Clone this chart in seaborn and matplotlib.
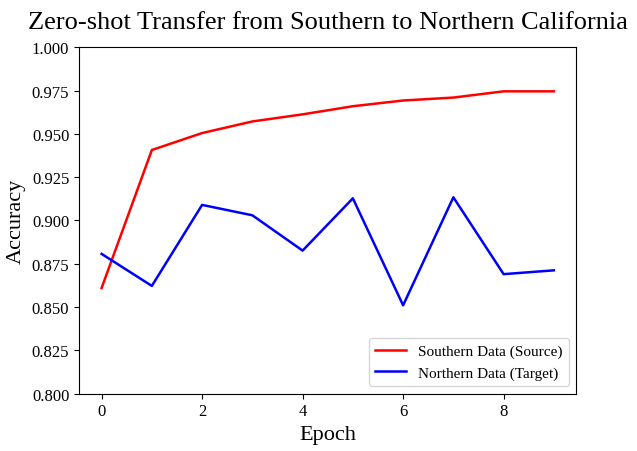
import matplotlib
matplotlib.use("Agg")
import matplotlib.pyplot as plt
import seaborn as sns
import pandas as pd

epochs = [0, 1, 2, 3, 4, 5, 6, 7, 8, 9]
southern = [0.861, 0.9407, 0.9505, 0.9572, 0.9613, 0.9660, 0.9693, 0.9710, 0.9746, 0.9746]
northern = [0.8807, 0.8622, 0.9090, 0.9030, 0.8826, 0.9128, 0.8510, 0.9134, 0.8690, 0.8712]
labels = ["Southern Data (Source)", "Northern Data (Target)"]
colors = ["red", "blue"]

plt.rcParams['font.family'] = ['Liberation Serif', 'DejaVu Serif']
plt.rcParams['mathtext.fontset'] = 'stix'

df = pd.DataFrame({
    "Epoch": epochs * 2,
    "Accuracy": southern + northern,
    "Series": [labels[0]] * len(epochs) + [labels[1]] * len(epochs),
})

fig, ax = plt.subplots(figsize=(6.37, 4.52), dpi=100)
sns.lineplot(data=df, x="Epoch", y="Accuracy", hue="Series", palette=colors, linewidth=1.8, ax=ax)
ax.set_ylim(0.8, 1.0)
ax.set_yticks([0.8, 0.825, 0.85, 0.875, 0.9, 0.925, 0.95, 0.975, 1.0])
ax.set_yticklabels([f"{v:.3f}" for v in ax.get_yticks()], fontsize=12)
ax.set_xticks([0, 2, 4, 6, 8])
ax.tick_params(axis='x', labelsize=12)
ax.set_xlabel("Epoch", fontsize=16)
ax.set_ylabel("Accuracy", fontsize=16)
ax.set_title("Zero-shot Transfer from Southern to Northern California", fontsize=19, pad=14)
ax.legend(title=None, loc="lower right", fontsize=11)
fig.subplots_adjust(left=0.124, right=0.905, top=0.893, bottom=0.127)
fig.savefig("out.png", dpi=100)
